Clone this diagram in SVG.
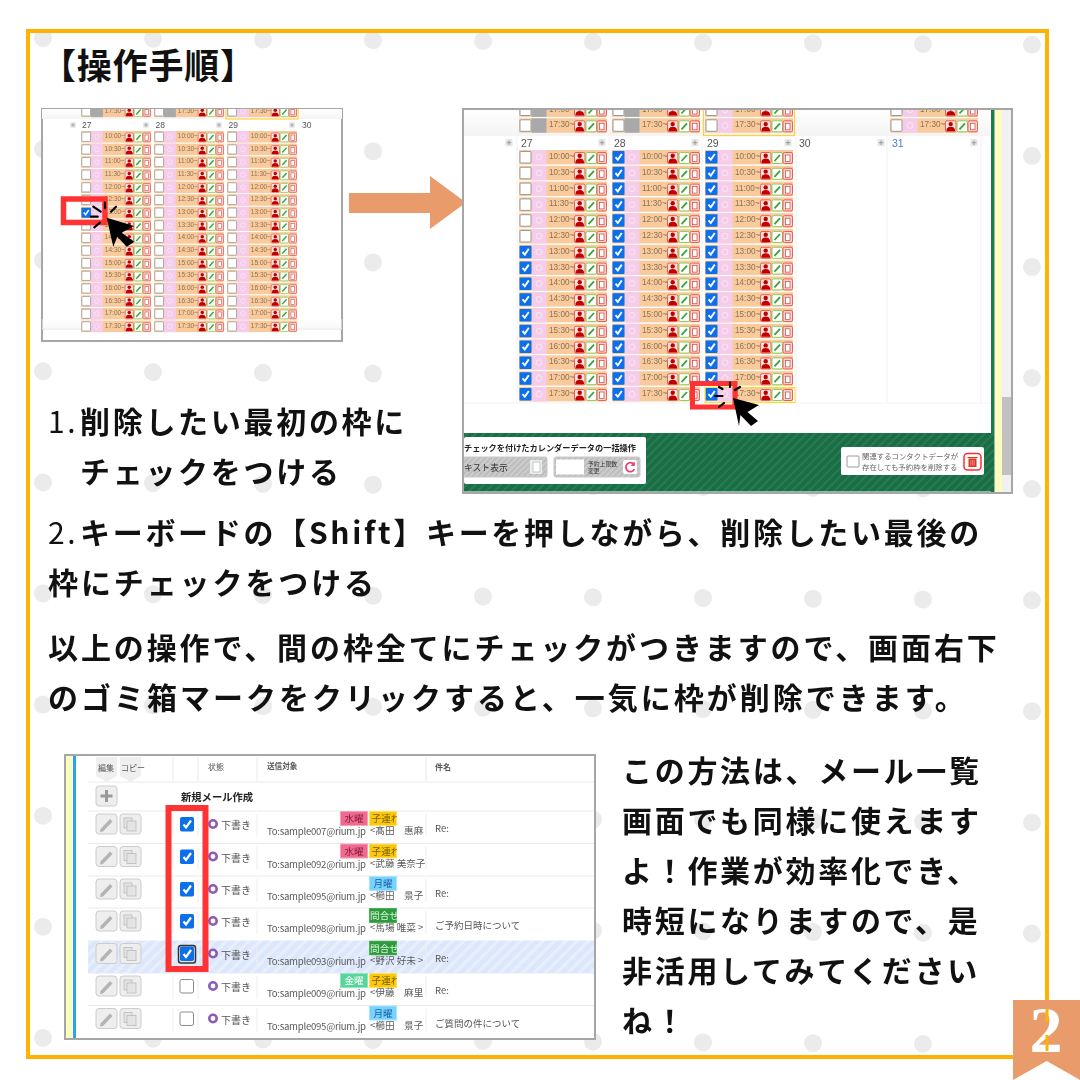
<svg xmlns="http://www.w3.org/2000/svg" xmlns:xlink="http://www.w3.org/1999/xlink" width="1080" height="1080" viewBox="0 0 1080 1080">
<style>
.m{font-family:"Noto Sans CJK JP","Noto Sans",sans-serif;font-weight:700;fill:#111;font-size:30px}
.n{font-weight:400}
.t{font-family:"Liberation Sans",sans-serif;font-size:8.2px;fill:#8d7355}
.d{font-family:"Liberation Sans",sans-serif;font-size:9px;fill:#555}
.j{font-family:"Noto Sans CJK JP",sans-serif;fill:#555}
.to{font-family:"Noto Sans CJK JP",sans-serif;font-size:9.6px;fill:#5a5a5a}
.tg{font-family:"Noto Sans CJK JP",sans-serif;font-size:9.6px;text-anchor:middle}
.dot{fill:#ebebeb}
.spark{stroke:#000;stroke-width:2.2;stroke-linecap:round}
.hi{fill:none;stroke:#ff3333}
.shot{fill:#fff;stroke:#a6a6a6;stroke-width:2}
.pl{fill:#e8e8e8;stroke:#ccc;stroke-width:.6}
</style>
<defs>
<filter id="soft" x="0" y="0" width="1" height="1"><feGaussianBlur stdDeviation="0.3"/></filter>
<pattern id="gh" width="6" height="6" patternUnits="userSpaceOnUse" patternTransform="rotate(45)"><rect width="6" height="6" fill="#1a6d45"/><rect width="2" height="6" fill="#267d52"/></pattern>
<pattern id="bh" width="8" height="8" patternUnits="userSpaceOnUse" patternTransform="rotate(45)"><rect width="8" height="8" fill="#dde7fb"/><rect width="3" height="8" fill="#e8effc"/></pattern>
<pattern id="bt" width="4" height="4" patternUnits="userSpaceOnUse" patternTransform="rotate(45)"><rect width="4" height="4" fill="#bdbdbd"/><rect width="2" height="4" fill="#ccc"/></pattern>
<linearGradient id="gr" x1="0" y1="0" x2="0" y2="1"><stop offset="0" stop-color="#fff"/><stop offset="1" stop-color="#f4f4f4"/></linearGradient>
<clipPath id="c1"><rect x="42" y="109" width="300" height="232"/></clipPath>
<clipPath id="c2"><rect x="464" y="110" width="547" height="382"/></clipPath>
<g id="ic">
<rect x="55.5" y="2.5" width="10.5" height="11" rx="1.5" fill="#fbe3e0" stroke="#e8604f" stroke-width="1"/><circle cx="60.7" cy="5.8" r="2.2" fill="#c00000"/><path d="M56.5 13V11.5Q57 8.5 60.7 8.5T65 11.5V13Z" fill="#c00000"/>
<rect x="67" y="2.5" width="10.5" height="11" rx="1.5" fill="#fff" stroke="#8ed05a" stroke-width="1"/><path d="M69.5 11L75 5" stroke="#3da13d" stroke-width="1.8"/>
<rect x="78" y="2.5" width="9.5" height="11" rx="1.5" fill="#fbd5cf" stroke="#e8604f" stroke-width="1"/><rect x="80.5" y="5" width="4.5" height="6.5" fill="#fff" stroke="#c44" stroke-width=".7"/>
</g>
<g id="r"><rect width="88" height="14.4" fill="#f9cb9c"/><rect x="12.5" width="15" height="14.4" fill="#f5cdea"/><circle cx="20" cy="7.2" r="2.9" fill="none" stroke="#fbe6f6" stroke-width="1"/><rect x="1" y="1.5" width="11" height="11.5" rx="1" fill="#fff" stroke="#9a9a9a"/><use href="#ic"/></g>
<g id="k"><rect width="88" height="14.4" fill="#f9cb9c"/><rect x="12.5" width="15" height="14.4" fill="#f5cdea"/><circle cx="20" cy="7.2" r="2.9" fill="none" stroke="#fbe6f6" stroke-width="1"/><rect x=".5" y="1" width="12" height="12.5" rx="1" fill="#0a6fe8"/><path d="M3.5 7.2L5.8 9.8L9.8 4" fill="none" stroke="#fff" stroke-width="1.9"/><use href="#ic"/></g>
<g id="gy"><rect width="88" height="14.4" fill="#f9cb9c"/><rect x="12.5" width="15" height="14.4" fill="#a9a9a9"/><rect x="1" y="1.5" width="11" height="11.5" rx="1" fill="#fff" stroke="#9a9a9a"/><use href="#ic"/></g>
<g id="plus"><rect x="-3.5" y="-3.5" width="7" height="7" fill="#e6e6e6"/><path d="M-2.3 0H2.3M0 -2.3V2.3" stroke="#999" stroke-width="1"/></g>
<g id="eb"><rect x="96" y="3" width="21" height="20" rx="3" fill="#eee" stroke="#ccc"/><path d="M100.5 18L110 8L112.5 10.5L103 20.5L100 21Z" fill="#b4b4b4"/><rect x="120" y="3" width="21" height="20" rx="3" fill="#eee" stroke="#ccc"/><rect x="124" y="7" width="8" height="10" fill="#e4e4e4" stroke="#bbb" stroke-width=".8"/><rect x="127" y="10" width="9" height="10" fill="#e4e4e4" stroke="#bbb" stroke-width=".8"/><path d="M173 3V26M198 3V26M257 3V26M426 3V26" stroke="#eee"/><circle cx="213" cy="13" r="3.7" fill="#fff" stroke="#8a5cb8" stroke-width="2.6"/></g>
<g id="ec"><rect x="180" y="6" width="14" height="14.5" rx="1.8" fill="#0a6fe8"/><path d="M183.5 13.5L186 16.5L191 9.5" fill="none" stroke="#fff" stroke-width="2.2"/></g>
<g id="eu"><rect x="180" y="6.5" width="13.5" height="13.5" rx="1.8" fill="#fff" stroke="#8a8a8a"/></g>
</defs>

<rect id="page" width="1080" height="1080" fill="#fff"/>
<g id="dots" class="dot" transform="matrix(1 .0068 0 1 0 -.3)">
<g id="dr"><circle cx="43" cy="38" r="9"/><circle cx="153" cy="38" r="9"/><circle cx="263" cy="38" r="9"/><circle cx="373" cy="38" r="9"/><circle cx="483" cy="38" r="9"/><circle cx="593" cy="38" r="9"/><circle cx="703" cy="38" r="9"/><circle cx="813" cy="38" r="9"/><circle cx="923" cy="38" r="9"/><circle cx="1032" cy="38" r="9"/></g>
<use href="#dr" y="111.1"/><use href="#dr" y="222.2"/><use href="#dr" y="333.3"/><use href="#dr" y="444.4"/><use href="#dr" y="555.5"/><use href="#dr" y="666.6"/><use href="#dr" y="777.7"/><use href="#dr" y="888.8"/><use href="#dr" y="999.9"/>
</g>
<rect id="frame" x="28" y="31" width="1019" height="1026" fill="none" stroke="#ffb300" stroke-width="4"/>

<text class="m" x="41" y="79" style="font-size:35px;letter-spacing:.8px">【操作手順】</text>

<g id="shot-small">
<rect class="shot" x="42" y="109" width="300" height="232"/>
<g clip-path="url(#c1)" filter="url(#soft)">
<rect x="42" y="109" width="300" height="10" fill="url(#gr)"/>
<path d="M42 329H342" stroke="#e4e4e4"/>
<rect x="42" y="319" width="300" height="10" fill="url(#gr)" opacity=".5"/>
<g transform="translate(81,105.6) scale(.795,.8)"><use href="#gy"/><text class="t" x="30" y="9">17:30~</text></g>
<g transform="translate(154,105.6) scale(.795,.8)"><use href="#gy"/><text class="t" x="30" y="9">17:30~</text></g>
<g transform="translate(227,105.6) scale(.795,.8)"><use href="#r"/><text class="t" x="30" y="9">17:30~</text></g>
<rect x="226" y="106" width="72" height="13" fill="none" stroke="#ffd23c" stroke-width="1.2"/>
<text class="d" x="82" y="128" style="font-size:8.5px">27</text><text class="d" x="155.5" y="128" style="font-size:8.5px">28</text><text class="d" x="228.5" y="128" style="font-size:8.5px">29</text><text class="d" x="302" y="128" style="font-size:8.5px">30</text>
<use href="#plus" transform="translate(73,125) scale(.8)"/><use href="#plus" transform="translate(146,125) scale(.8)"/><use href="#plus" transform="translate(219,125) scale(.8)"/><use href="#plus" transform="translate(292,125) scale(.8)"/>
<g transform="translate(81,131) scale(.795,.8)">
<use href="#r" y="0"/><text class="t" x="30" y="9">10:00~</text><use href="#r" y="15.8"/><text class="t" x="30" y="24.8">10:30~</text><use href="#r" y="31.6"/><text class="t" x="30" y="40.6">11:00~</text><use href="#r" y="47.4"/><text class="t" x="30" y="56.4">11:30~</text><use href="#r" y="63.2"/><text class="t" x="30" y="72.2">12:00~</text><use href="#r" y="79"/><text class="t" x="30" y="88">12:30~</text><use href="#k" y="94.8"/><text class="t" x="30" y="103.8">13:00~</text><use href="#r" y="110.6"/><text class="t" x="30" y="119.6">13:30~</text><use href="#r" y="126.4"/><text class="t" x="30" y="135.4">14:00~</text><use href="#r" y="142.2"/><text class="t" x="30" y="151.2">14:30~</text><use href="#r" y="158"/><text class="t" x="30" y="167">15:00~</text><use href="#r" y="173.8"/><text class="t" x="30" y="182.8">15:30~</text><use href="#r" y="189.6"/><text class="t" x="30" y="198.6">16:00~</text><use href="#r" y="205.4"/><text class="t" x="30" y="214.4">16:30~</text><use href="#r" y="221.2"/><text class="t" x="30" y="230.2">17:00~</text><use href="#r" y="237"/><text class="t" x="30" y="246">17:30~</text>
</g>
<g transform="translate(154,131) scale(.795,.8)">
<use href="#r" y="0"/><text class="t" x="30" y="9">10:00~</text><use href="#r" y="15.8"/><text class="t" x="30" y="24.8">10:30~</text><use href="#r" y="31.6"/><text class="t" x="30" y="40.6">11:00~</text><use href="#r" y="47.4"/><text class="t" x="30" y="56.4">11:30~</text><use href="#r" y="63.2"/><text class="t" x="30" y="72.2">12:00~</text><use href="#r" y="79"/><text class="t" x="30" y="88">12:30~</text><use href="#r" y="94.8"/><text class="t" x="30" y="103.8">13:00~</text><use href="#r" y="110.6"/><text class="t" x="30" y="119.6">13:30~</text><use href="#r" y="126.4"/><text class="t" x="30" y="135.4">14:00~</text><use href="#r" y="142.2"/><text class="t" x="30" y="151.2">14:30~</text><use href="#r" y="158"/><text class="t" x="30" y="167">15:00~</text><use href="#r" y="173.8"/><text class="t" x="30" y="182.8">15:30~</text><use href="#r" y="189.6"/><text class="t" x="30" y="198.6">16:00~</text><use href="#r" y="205.4"/><text class="t" x="30" y="214.4">16:30~</text><use href="#r" y="221.2"/><text class="t" x="30" y="230.2">17:00~</text><use href="#r" y="237"/><text class="t" x="30" y="246">17:30~</text>
</g>
<g transform="translate(227,131) scale(.795,.8)">
<use href="#r" y="0"/><text class="t" x="30" y="9">10:00~</text><use href="#r" y="15.8"/><text class="t" x="30" y="24.8">10:30~</text><use href="#r" y="31.6"/><text class="t" x="30" y="40.6">11:00~</text><use href="#r" y="47.4"/><text class="t" x="30" y="56.4">11:30~</text><use href="#r" y="63.2"/><text class="t" x="30" y="72.2">12:00~</text><use href="#r" y="79"/><text class="t" x="30" y="88">12:30~</text><use href="#r" y="94.8"/><text class="t" x="30" y="103.8">13:00~</text><use href="#r" y="110.6"/><text class="t" x="30" y="119.6">13:30~</text><use href="#r" y="126.4"/><text class="t" x="30" y="135.4">14:00~</text><use href="#r" y="142.2"/><text class="t" x="30" y="151.2">14:30~</text><use href="#r" y="158"/><text class="t" x="30" y="167">15:00~</text><use href="#r" y="173.8"/><text class="t" x="30" y="182.8">15:30~</text><use href="#r" y="189.6"/><text class="t" x="30" y="198.6">16:00~</text><use href="#r" y="205.4"/><text class="t" x="30" y="214.4">16:30~</text><use href="#r" y="221.2"/><text class="t" x="30" y="230.2">17:00~</text><use href="#r" y="237"/><text class="t" x="30" y="246">17:30~</text>
</g>
</g>
<rect class="hi" x="63.5" y="199" width="41.5" height="23.5" stroke-width="5.5"/>
<path class="spark" d="M93.3 206.7L100.7 211.7M105 202.7V208.3M116 206.7L111 211.7M91 216.7H97.7M94.3 227.3L100 222.7"/>
<path d="M106.7 217.7L134 226L121.7 232.7L134.3 241.7L126.7 246.7L117.3 236.7L113.3 246.7Z" fill="#000"/>
</g>

<g id="arrow"><path d="M349 193H430V176L466 202.5L430 229V213H349Z" fill="#e99b6b"/></g>

<g id="shot-large">
<rect class="shot" x="463" y="109" width="549" height="384"/>
<g clip-path="url(#c2)" filter="url(#soft)">
<rect x="464" y="110" width="527" height="26" fill="url(#gr)"/>
<rect x="1002" y="110" width="10" height="382" fill="#f1f1f1"/>
<rect x="1002" y="397" width="10" height="78" fill="#c1c1c1"/>
<rect x="995" y="110" width="7" height="382" fill="#fdfcc0"/>
<rect x="991" y="110" width="3.5" height="382" fill="#1f7a4e"/>
<path d="M517 136V403M609 136V403M702 136V403M796 136V403M887 136V403M981 136V403M464 403H991" stroke="#f3f3f3" stroke-width="1.2"/>
<use href="#gy" x="519" y="102.5"/><text class="t" x="549" y="111.5">17:00~</text><use href="#gy" x="519" y="118.3"/><text class="t" x="549" y="127.3">17:30~</text>
<use href="#gy" x="612" y="102.5"/><text class="t" x="642" y="111.5">17:00~</text><use href="#gy" x="612" y="118.3"/><text class="t" x="642" y="127.3">17:30~</text>
<use href="#r" x="705" y="102.5"/><text class="t" x="735" y="111.5">17:00~</text><use href="#r" x="705" y="118.3"/><text class="t" x="735" y="127.3">17:30~</text>
<rect x="703.5" y="100" width="91" height="35.5" fill="none" stroke="#ffd23c" stroke-width="1.3"/>
<use href="#r" x="890" y="102.5"/><text class="t" x="920" y="111.5">17:00~</text><use href="#r" x="890" y="118.3"/><text class="t" x="920" y="127.3">17:30~</text>
<text x="521" y="147" style="font:10.5px 'Liberation Sans',sans-serif;fill:#555">27</text><text x="614" y="147" style="font:10.5px 'Liberation Sans',sans-serif;fill:#555">28</text><text x="707" y="147" style="font:10.5px 'Liberation Sans',sans-serif;fill:#555">29</text><text x="799" y="147" style="font:10.5px 'Liberation Sans',sans-serif;fill:#555">30</text><text x="892" y="147" style="font:10.5px 'Liberation Sans',sans-serif;fill:#4a7fd6">31</text>
<use href="#plus" x="509" y="142.7"/><use href="#plus" x="602" y="142.7"/><use href="#plus" x="695" y="142.7"/><use href="#plus" x="788" y="142.7"/><use href="#plus" x="881" y="142.7"/><use href="#plus" x="974" y="142.7"/>
<g transform="translate(519,150)">
<use href="#r" y="0"/><text class="t" x="30" y="9">10:00~</text><use href="#r" y="15.8"/><text class="t" x="30" y="24.8">10:30~</text><use href="#r" y="31.6"/><text class="t" x="30" y="40.6">11:00~</text><use href="#r" y="47.4"/><text class="t" x="30" y="56.4">11:30~</text><use href="#r" y="63.2"/><text class="t" x="30" y="72.2">12:00~</text><use href="#r" y="79"/><text class="t" x="30" y="88">12:30~</text><use href="#k" y="94.8"/><text class="t" x="30" y="103.8">13:00~</text><use href="#k" y="110.6"/><text class="t" x="30" y="119.6">13:30~</text><use href="#k" y="126.4"/><text class="t" x="30" y="135.4">14:00~</text><use href="#k" y="142.2"/><text class="t" x="30" y="151.2">14:30~</text><use href="#k" y="158"/><text class="t" x="30" y="167">15:00~</text><use href="#k" y="173.8"/><text class="t" x="30" y="182.8">15:30~</text><use href="#k" y="189.6"/><text class="t" x="30" y="198.6">16:00~</text><use href="#k" y="205.4"/><text class="t" x="30" y="214.4">16:30~</text><use href="#k" y="221.2"/><text class="t" x="30" y="230.2">17:00~</text><use href="#k" y="237"/><text class="t" x="30" y="246">17:30~</text>
</g>
<g transform="translate(612,150)">
<use href="#k" y="0"/><text class="t" x="30" y="9">10:00~</text><use href="#k" y="15.8"/><text class="t" x="30" y="24.8">10:30~</text><use href="#k" y="31.6"/><text class="t" x="30" y="40.6">11:00~</text><use href="#k" y="47.4"/><text class="t" x="30" y="56.4">11:30~</text><use href="#k" y="63.2"/><text class="t" x="30" y="72.2">12:00~</text><use href="#k" y="79"/><text class="t" x="30" y="88">12:30~</text><use href="#k" y="94.8"/><text class="t" x="30" y="103.8">13:00~</text><use href="#k" y="110.6"/><text class="t" x="30" y="119.6">13:30~</text><use href="#k" y="126.4"/><text class="t" x="30" y="135.4">14:00~</text><use href="#k" y="142.2"/><text class="t" x="30" y="151.2">14:30~</text><use href="#k" y="158"/><text class="t" x="30" y="167">15:00~</text><use href="#k" y="173.8"/><text class="t" x="30" y="182.8">15:30~</text><use href="#k" y="189.6"/><text class="t" x="30" y="198.6">16:00~</text><use href="#k" y="205.4"/><text class="t" x="30" y="214.4">16:30~</text><use href="#k" y="221.2"/><text class="t" x="30" y="230.2">17:00~</text><use href="#k" y="237"/><text class="t" x="30" y="246">17:30~</text>
</g>
<g transform="translate(705,150)">
<use href="#k" y="0"/><text class="t" x="30" y="9">10:00~</text><use href="#k" y="15.8"/><text class="t" x="30" y="24.8">10:30~</text><use href="#k" y="31.6"/><text class="t" x="30" y="40.6">11:00~</text><use href="#k" y="47.4"/><text class="t" x="30" y="56.4">11:30~</text><use href="#k" y="63.2"/><text class="t" x="30" y="72.2">12:00~</text><use href="#k" y="79"/><text class="t" x="30" y="88">12:30~</text><use href="#k" y="94.8"/><text class="t" x="30" y="103.8">13:00~</text><use href="#k" y="110.6"/><text class="t" x="30" y="119.6">13:30~</text><use href="#k" y="126.4"/><text class="t" x="30" y="135.4">14:00~</text><use href="#k" y="142.2"/><text class="t" x="30" y="151.2">14:30~</text><use href="#k" y="158"/><text class="t" x="30" y="167">15:00~</text><use href="#k" y="173.8"/><text class="t" x="30" y="182.8">15:30~</text><use href="#k" y="189.6"/><text class="t" x="30" y="198.6">16:00~</text><use href="#k" y="205.4"/><text class="t" x="30" y="214.4">16:30~</text><use href="#k" y="221.2"/><text class="t" x="30" y="230.2">17:00~</text><use href="#k" y="237"/><text class="t" x="30" y="246">17:30~</text>
</g>
<rect x="705" y="387.5" width="90" height="15" fill="none" stroke="#f5e02a" stroke-width="1"/>
<rect x="464" y="433" width="530" height="58.5" fill="url(#gh)"/>
<rect x="464" y="437" width="182" height="47" rx="2" fill="#fff"/>
<text x="464" y="451" style="font:700 8.2px 'Noto Sans CJK JP',sans-serif;fill:#222">チェックを付けたカレンダーデータの一括操作</text>
<rect x="462" y="457" width="85" height="20" rx="2" fill="url(#bt)" stroke="#c8c8c8"/>
<text x="464" y="471" style="font:8.8px 'Noto Sans CJK JP',sans-serif;fill:#333">キスト表示</text>
<rect x="530" y="460" width="12" height="14" rx="1" fill="#eee"/><rect x="533" y="462" width="7" height="10" fill="#fff" stroke="#a9c0c0" stroke-width=".8"/>
<rect x="554" y="457" width="86" height="20" rx="2" fill="url(#bt)" stroke="#c8c8c8"/>
<rect x="556" y="459.5" width="28" height="15" fill="#fff"/>
<text x="588" y="465.5" style="font:5.8px 'Noto Sans CJK JP',sans-serif;fill:#333">予約上限数</text><text x="588" y="473" style="font:5.8px 'Noto Sans CJK JP',sans-serif;fill:#333">変更</text>
<rect x="623" y="460" width="14" height="14" rx="2" fill="#fff"/><path d="M634 464.5A4.5 4.5 0 1 0 634.5 469" fill="none" stroke="#e8417e" stroke-width="1.8"/><path d="M634.8 461.5V466H630.5Z" fill="#e8417e"/>
<rect x="841" y="447" width="143" height="28" rx="2" fill="#fff"/>
<rect x="847" y="456" width="12" height="11" rx="1" fill="#fff" stroke="#999"/>
<text x="862" y="458.5" style="font:7.4px 'Noto Sans CJK JP',sans-serif;fill:#666">関連するコンタクトデータが</text><text x="862" y="469.5" style="font:7.4px 'Noto Sans CJK JP',sans-serif;fill:#666">存在しても予約枠を削除する</text>
<rect x="964" y="453.5" width="17" height="16.5" rx="3.5" fill="#fff" stroke="#ff2d2d" stroke-width="1.5"/><path d="M968.5 458.5H976.5V467H968.5ZM967.5 457H977.5V458H967.5Z" fill="#e0322a"/><path d="M970.8 460V465.5M972.5 460V465.5M974.2 460V465.5" stroke="#fbb" stroke-width=".6"/>
</g>
<rect class="hi" x="692.5" y="383.5" width="42.5" height="23.5" stroke-width="5"/>
<path class="spark" d="M719 387L722.5 389M730 382.7V387M740 387L735 390M715 396H722.5M719 407L724 403"/>
<path d="M733 398L759 405L747.5 412L758 421L751 426L740.4 415L739 426Z" fill="#000"/>
</g>

<g id="steps">
<text class="m" x="48" y="433" style="letter-spacing:2.7px"><tspan class="n">1.</tspan><tspan x="80">削除したい最初の枠に</tspan></text>
<text class="m" x="80" y="483" style="letter-spacing:2.7px">チェックをつける</text>
<text class="m" x="48" y="544" style="letter-spacing:2.7px"><tspan class="n">2.</tspan><tspan x="80">キーボードの【Shift】キーを押しながら、削除したい最後の</tspan></text>
<text class="m" x="48" y="594" style="letter-spacing:2.9px">枠にチェックをつける</text>
<text class="m" x="48" y="659" style="letter-spacing:2.9px">以上の操作で、間の枠全てにチェックがつきますので、画面右下</text>
<text class="m" x="48" y="709" style="letter-spacing:3px">のゴミ箱マークをクリックすると、一気に枠が削除できます。</text>
</g>

<g id="shot-mail">
<rect class="shot" x="65" y="755" width="530" height="284"/>
<g filter="url(#soft)">
<rect x="66" y="756" width="7" height="282" fill="#fdfcc0"/>
<rect x="73" y="756" width="3" height="282" fill="#29a3ee"/>
<path d="M96 757H117V776L106.5 782L96 776ZM120 757H141V776L130.5 782L120 776Z" fill="#efefef"/>
<text class="j" x="98" y="771" style="font-size:8px">編集</text><text class="j" x="121" y="771" style="font-size:8px">コピー</text>
<text class="j" x="208" y="770" style="font-size:8px">状態</text><text class="j" x="267" y="769" style="font-size:7.6px;font-weight:700">送信対象</text><text class="j" x="435" y="770" style="font-size:8px;font-weight:700">件名</text>
<path d="M88 782H594M88 811H594M88 843.5H594M88 876H594M88 908H594M88 973H594M88 1005.5H594M173 757V781M198 757V781M257 757V781M426 757V781" stroke="#eaeaea"/>
<rect x="96" y="786" width="21" height="20" rx="3" fill="#eee" stroke="#ccc"/><path d="M106.5 790V802M100.5 796H112.5" stroke="#999" stroke-width="3"/>
<text x="181" y="801" style="font:700 10.3px 'Noto Sans CJK JP',sans-serif;fill:#222">新規メール作成</text>
<rect x="88" y="940.5" width="506" height="32.5" fill="url(#bh)"/>

<use href="#eb" y="811"/><use href="#ec" y="811"/><text class="j" x="221" y="829" style="font-size:10px">下書き</text>
<rect x="340.5" y="811.5" width="27" height="14" fill="#ee6a8f" stroke="#f9a0b8"/><text class="tg" x="354" y="822" fill="#8a1b3b">水曜</text>
<svg x="369" y="811" width="28" height="15"><rect x=".5" y=".5" width="27" height="14" fill="#fbc80d" stroke="#ffe060"/><text class="tg" x="17" y="11" fill="#7a5c00">子連れ</text></svg>
<text class="to" x="267" y="835" textLength="99">To:sample007@rium.jp</text><text class="to" x="370" y="834">&lt;髙田　惠麻</text><text class="j" x="435" y="832" style="font-size:9.5px">Re:</text>

<use href="#eb" y="843.5"/><use href="#ec" y="843.5"/><text class="j" x="221" y="861.5" style="font-size:10px">下書き</text>
<rect x="340.5" y="844" width="27" height="14" fill="#ee6a8f" stroke="#f9a0b8"/><text class="tg" x="354" y="854.5" fill="#8a1b3b">水曜</text>
<svg x="369" y="843.5" width="28" height="15"><rect x=".5" y=".5" width="27" height="14" fill="#fbc80d" stroke="#ffe060"/><text class="tg" x="17" y="11" fill="#7a5c00">子連れ</text></svg>
<text class="to" x="267" y="867.5" textLength="99">To:sample092@rium.jp</text><text class="to" x="370" y="866.5">&lt;武藤 美奈子</text>

<use href="#eb" y="876"/><use href="#ec" y="876"/><text class="j" x="221" y="894" style="font-size:10px">下書き</text>
<rect x="369.5" y="876.5" width="27" height="14" fill="#78d2fb" stroke="#a8e6ff"/><text class="tg" x="383" y="887" fill="#1560b0">月曜</text>
<text class="to" x="267" y="900" textLength="99">To:sample095@rium.jp</text><text class="to" x="370" y="899">&lt;櫛田　景子</text><text class="j" x="435" y="897" style="font-size:9.5px">Re:</text>

<use href="#eb" y="908"/><use href="#ec" y="908"/><text class="j" x="221" y="926" style="font-size:10px">下書き</text>
<svg x="369" y="908" width="28" height="15"><rect x=".5" y=".5" width="27" height="14" fill="#2f9a3d" stroke="#49b455"/><text class="tg" x="15.5" y="11" fill="#d5f5d5">問合せ</text></svg>
<text class="to" x="267" y="932" textLength="99">To:sample098@rium.jp</text><text class="to" x="370" y="931">&lt;馬場 唯菜 &gt;</text><text class="j" x="435" y="929" style="font-size:9.5px">ご予約日時について</text>

<use href="#eb" y="940.5"/><use href="#ec" y="940.5"/><rect x="178.5" y="945.5" width="17" height="17.5" rx="2.5" fill="none" stroke="#333" stroke-width="1.5"/><text class="j" x="221" y="958.5" style="font-size:10px">下書き</text>
<svg x="369" y="940.5" width="28" height="15"><rect x=".5" y=".5" width="27" height="14" fill="#2f9a3d" stroke="#49b455"/><text class="tg" x="15.5" y="11" fill="#d5f5d5">問合せ</text></svg>
<text class="to" x="267" y="964.5" textLength="99">To:sample093@rium.jp</text><text class="to" x="370" y="963.5">&lt;野沢 好未 &gt;</text><text class="j" x="435" y="961.5" style="font-size:9.5px">Re:</text>

<use href="#eb" y="973"/><use href="#eu" y="973"/><text class="j" x="221" y="991" style="font-size:10px">下書き</text>
<rect x="340.5" y="973.5" width="27" height="14" fill="#5ad49a" stroke="#8de8bb"/><text class="tg" x="354" y="984" fill="#fff">金曜</text>
<svg x="369" y="973" width="28" height="15"><rect x=".5" y=".5" width="27" height="14" fill="#fbc80d" stroke="#ffe060"/><text class="tg" x="17" y="11" fill="#7a5c00">子連れ</text></svg>
<text class="to" x="267" y="997" textLength="99">To:sample009@rium.jp</text><svg x="369" y="985" width="54" height="16"><text class="to" x="1" y="11">&lt;伊藤　麻里子</text></svg><text class="j" x="435" y="994" style="font-size:9.5px">Re:</text>

<use href="#eb" y="1005.5"/><use href="#eu" y="1005.5"/><text class="j" x="221" y="1023.5" style="font-size:10px">下書き</text>
<rect x="369.5" y="1006" width="27" height="14" fill="#78d2fb" stroke="#a8e6ff"/><text class="tg" x="383" y="1016.5" fill="#1560b0">月曜</text>
<text class="to" x="267" y="1029.5" textLength="99">To:sample095@rium.jp</text><text class="to" x="370" y="1028.5">&lt;櫛田　景子</text><text class="j" x="435" y="1026.5" style="font-size:9.5px">ご質問の件について</text>
</g>
<rect class="hi" x="168.5" y="808" width="37" height="161" stroke-width="6"/>
</g>

<g id="note">
<text class="m" x="622" y="782" style="letter-spacing:2.7px">この方法は、メール一覧</text>
<text class="m" x="622" y="832" style="letter-spacing:2.7px">画面でも同様に使えます</text>
<text class="m" x="622" y="882" style="letter-spacing:2.7px">よ！作業が効率化でき、</text>
<text class="m" x="622" y="932" style="letter-spacing:2.7px">時短になりますので、是</text>
<text class="m" x="622" y="982" style="letter-spacing:2.7px">非活用してみてください</text>
<text class="m" x="622" y="1032" style="letter-spacing:2.7px">ね！</text>
</g>

<g id="badge">
<path d="M1013 1000H1080V1080L1046.7 1061L1013 1080Z" fill="#e99b6b"/>
<text x="1046" y="1052" text-anchor="middle" style="font:700 66px 'Liberation Serif',serif;fill:#fff">2</text>
<path d="M1047 1009V1022M1047 1035V1051" stroke="#ffb300" stroke-width="3"/>
</g>
</svg>
